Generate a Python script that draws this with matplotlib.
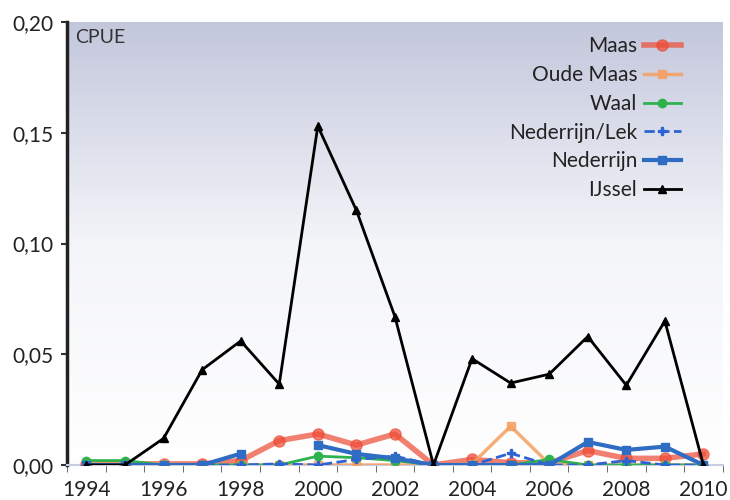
import numpy as np
import matplotlib.pyplot as plt
from matplotlib.ticker import FixedLocator
from matplotlib.colors import LinearSegmentedColormap

plt.rcParams['font.family'] = ['Lato', 'DejaVu Sans']

years = list(range(1994, 2011))
maas = [0.0005, 0.0005, 0.0005, 0.0005, 0.002, 0.011, 0.014, 0.009, 0.014, 0.0,
        0.0025, 0.001, 0.001, 0.0065, 0.003, 0.003, 0.005]
oude_maas = [0.001, 0.001, 0.0005, 0.0, 0.0, 0.0, 0.0, 0.0, 0.0, 0.0,
             0.0005, 0.0175, 0.0005, 0.0, 0.0, 0.0, 0.0]
waal = [0.002, 0.002, 0.0, 0.0, 0.0, 0.0, 0.004, 0.0033, 0.002, 0.0,
        0.0, 0.0, 0.0025, 0.0, 0.0, 0.0, 0.0]
nederrijn_lek = [0.0, 0.0, 0.0, 0.0, 0.0, 0.0005, 0.0, 0.0025, 0.004, 0.0,
                 0.0, 0.0053, 0.0, 0.0, 0.002, 0.0, 0.0]
nederrijn = [0.0, 0.0, 0.0, 0.0, 0.0051, None, 0.009, 0.005, 0.003, 0.0,
             0.0, 0.0, 0.0, 0.0104, 0.0068, 0.0083, 0.0]
ijssel = [0.0, 0.0, 0.012, 0.043, 0.056, 0.0365, 0.153, 0.115, 0.067, 0.0,
          0.048, 0.037, 0.041, 0.058, 0.036, 0.065, 0.0]

yticks = [0.0, 0.05, 0.10, 0.15, 0.20]
ytick_labels = ['0,00', '0,05', '0,10', '0,15', '0,20']
xtick_years = list(range(1994, 2011, 2))

fig = plt.figure(figsize=(7.3, 5.0), dpi=100)
ax = fig.add_axes([0.092, 0.07, 0.898, 0.886])

# background gradient: lavender at top fading to white
grad = np.linspace(0, 1, 256).reshape(-1, 1)
cmap = LinearSegmentedColormap.from_list('bg', ['#ffffff', '#f4f5f9', '#c3c7dc'])
ax.imshow(grad, aspect='auto', cmap=cmap, origin='lower',
          extent=[0, 1, 0, 1], transform=ax.transAxes, zorder=0)

def arr(v):
    return np.array([np.nan if x is None else x for x in v], dtype=float)

ax.plot(years, arr(maas), '-o', color='#ee4b35', lw=4, ms=8, alpha=0.7, label='Maas', zorder=3)
ax.plot(years, arr(oude_maas), '-s', color='#f5a062', lw=2.5, ms=6, alpha=0.85, label='Oude Maas', zorder=3)
ax.plot(years, arr(waal), '-o', color='#2eb24e', lw=2, ms=6, label='Waal', zorder=4)
ax.plot(years, arr(nederrijn_lek), '--P', color='#2d63d2', lw=2, ms=6, label='Nederrijn/Lek', zorder=4)
ax.plot(years, arr(nederrijn), '-s', color='#2f6cc4', lw=3, ms=6, label='Nederrijn', zorder=5)
ax.plot(years, arr(ijssel), '-^', color='black', lw=2, ms=6, label='IJssel', zorder=6)

ax.set_xlim(1993.5, 2010.5)
ax.set_ylim(0, 0.20)
ax.set_yticks(yticks)
ax.set_yticklabels(ytick_labels, fontsize=15, color='#222222')
ax.set_xticks(xtick_years)
ax.set_xticklabels([str(y) for y in xtick_years], fontsize=15, color='#222222')
ax.xaxis.set_minor_locator(FixedLocator([y + 0.5 for y in range(1993, 2011)]))
ax.tick_params(axis='x', which='major', length=0, pad=11)
ax.tick_params(axis='x', which='minor', length=5, color='#555555', direction='out')
ax.tick_params(axis='y', length=4, width=1.5, color='#333333', pad=6)

for s in ['top', 'right']:
    ax.spines[s].set_visible(False)
ax.spines['left'].set_linewidth(2.5)
ax.spines['left'].set_color('#222222')
ax.spines['bottom'].set_color('#c8cce0')
ax.spines['bottom'].set_linewidth(1.5)

ax.text(0.012, 0.985, 'CPUE', transform=ax.transAxes, fontsize=14,
        color='#333333', va='top', ha='left')

leg = ax.legend(loc='upper right', markerfirst=False, frameon=False, fontsize=15,
                handlelength=1.8, labelspacing=0.42, borderaxespad=0.5,
                handletextpad=0.3, bbox_to_anchor=(0.965, 1.01))
for t in leg.get_texts():
    t.set_color('#222222')

fig.savefig('out.png', dpi=100)
